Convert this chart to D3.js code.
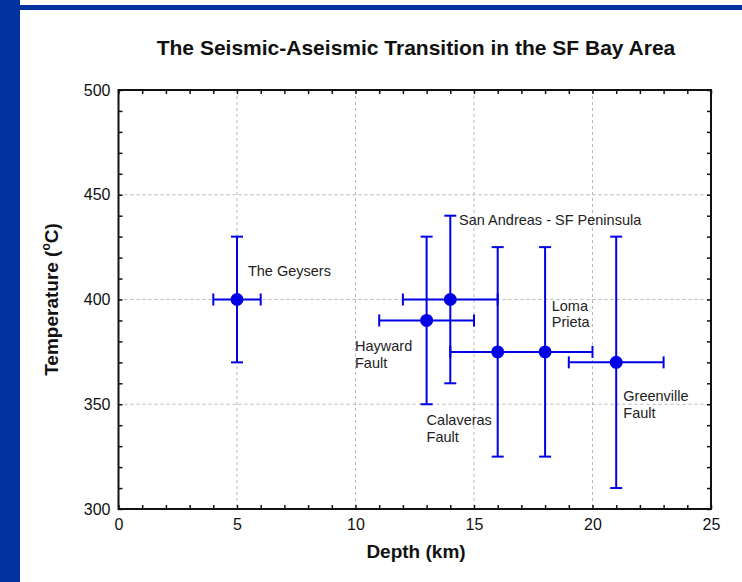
<!DOCTYPE html>
<html>
<head>
<meta charset="utf-8">
<script src="https://cdn.jsdelivr.net/npm/d3@7"></script>
<style>
  body { margin: 0; background: #fff; }
  svg { display: block; font-family: "Liberation Sans", Arial, sans-serif; }
  .grid line { stroke: #b8b8b8; stroke-dasharray: 3,3; stroke-width: 1; }
  .minor path { display: none; }
  .minor line { stroke: #111; stroke-width: 1.5; }
  .lbl path { display: none; }
  .lbl text { font-size: 16px; fill: #111; }
  .bar { stroke: #0000e6; stroke-width: 2; fill: none; }
  .note { font-size: 14.5px; fill: #222; }
</style>
</head>
<body>
<div id="chart"></div>
<script>
// site data
const sites = ['The Geysers', 'Hayward Fault', 'San Andreas - SF Peninsula',
    'Calaveras Fault', 'Loma Prieta', 'Greenville Fault'];
const depth = [5, 13, 14, 16, 18, 21];
const temp = [400, 390, 400, 375, 375, 370];
const depthErr = [1, 2, 2, 2, 2, 2];
const tempErr = [30, 40, 40, 50, 50, 60];

const xTicks = [0, 5, 10, 15, 20, 25];
const yTicks = [300, 350, 400, 450, 500];

// annotation text, anchored in data units (km, degC)
const noteLines = [['The Geysers'], ['Hayward', 'Fault'], ['San Andreas - SF Peninsula'],
    ['Calaveras', 'Fault'], ['Loma', 'Prieta'], ['Greenville', 'Fault']];
const noteDepth = [5.46, 9.98, 14.37, 13.0, 18.28, 21.3];
const noteTemp = [411.2, 375.4, 435.6, 340.1, 394.7, 351.5];

const W = 742, H = 582;
const plot = { left: 118.5, right: 711, top: 90, bottom: 509 };
const blue = '#0033a0';

const svg = d3.select('#chart').append('svg')
    .attr('width', W)
    .attr('height', H);

// slide frame
svg.append('rect').attr('x', 0).attr('y', 0).attr('width', 20).attr('height', H).attr('fill', blue);
svg.append('rect').attr('x', 0).attr('y', 5).attr('width', W).attr('height', 5).attr('fill', blue);

const x = d3.scaleLinear().domain([0, 25]).range([plot.left, plot.right]);
const y = d3.scaleLinear().domain([300, 500]).range([plot.bottom, plot.top]);

// dashed grid
const grid = svg.append('g').attr('class', 'grid');
grid.selectAll('.gx')
    .data(xTicks.slice(1, -1))
    .enter().append('line')
    .attr('x1', d => x(d)).attr('x2', d => x(d))
    .attr('y1', plot.top).attr('y2', plot.bottom);
grid.selectAll('.gy')
    .data(yTicks.slice(1, -1))
    .enter().append('line')
    .attr('x1', plot.left).attr('x2', plot.right)
    .attr('y1', d => y(d)).attr('y2', d => y(d));

// inward minor ticks on all four sides
const xMinor = x.ticks(25), yMinor = y.ticks(20);
const tk = 4;
svg.append('g').attr('class', 'minor').attr('transform', `translate(0,${plot.bottom})`)
    .call(d3.axisBottom(x).tickValues(xMinor).tickSizeInner(-tk).tickSizeOuter(0).tickFormat(''));
svg.append('g').attr('class', 'minor').attr('transform', `translate(0,${plot.top})`)
    .call(d3.axisTop(x).tickValues(xMinor).tickSizeInner(-tk).tickSizeOuter(0).tickFormat(''));
svg.append('g').attr('class', 'minor').attr('transform', `translate(${plot.left},0)`)
    .call(d3.axisLeft(y).tickValues(yMinor).tickSizeInner(-tk).tickSizeOuter(0).tickFormat(''));
svg.append('g').attr('class', 'minor').attr('transform', `translate(${plot.right},0)`)
    .call(d3.axisRight(y).tickValues(yMinor).tickSizeInner(-tk).tickSizeOuter(0).tickFormat(''));

// tick labels
svg.append('g').attr('class', 'lbl').attr('transform', `translate(0,${plot.bottom})`)
    .call(d3.axisBottom(x).tickValues(xTicks).tickSize(0).tickPadding(10).tickFormat(d3.format('d')));
svg.append('g').attr('class', 'lbl').attr('transform', `translate(${plot.left},0)`)
    .call(d3.axisLeft(y).tickValues(yTicks).tickSize(0).tickPadding(8).tickFormat(d3.format('d')));

// plot frame
svg.append('rect')
    .attr('x', plot.left).attr('y', plot.top)
    .attr('width', plot.right - plot.left).attr('height', plot.bottom - plot.top)
    .attr('fill', 'none').attr('stroke', '#111').attr('stroke-width', 2);

// error bars and markers
const cap = 6;
const pts = sites.map((s, i) => ({
    site: s, d: depth[i], t: temp[i], de: depthErr[i], te: tempErr[i]
}));
const bars = svg.append('g');
pts.forEach(p => {
    const g = bars.append('g').attr('class', 'bar');
    const cx = x(p.d), cy = y(p.t);
    const x0 = x(p.d - p.de), x1 = x(p.d + p.de);
    const y0 = y(p.t - p.te), y1 = y(p.t + p.te);
    g.append('line').attr('x1', x0).attr('x2', x1).attr('y1', cy).attr('y2', cy);
    g.append('line').attr('x1', cx).attr('x2', cx).attr('y1', y0).attr('y2', y1);
    [x0, x1].forEach(v => g.append('line').attr('x1', v).attr('x2', v)
        .attr('y1', cy - cap).attr('y2', cy + cap));
    [y0, y1].forEach(v => g.append('line').attr('x1', cx - cap).attr('x2', cx + cap)
        .attr('y1', v).attr('y2', v));
});
bars.selectAll('circle')
    .data(pts)
    .enter().append('circle')
    .attr('cx', d => x(d.d))
    .attr('cy', d => y(d.t))
    .attr('r', 6.5)
    .attr('fill', '#0000e6');

// annotations
noteLines.forEach((lines, i) => {
    const t = svg.append('text').attr('class', 'note')
        .attr('x', x(noteDepth[i])).attr('y', y(noteTemp[i]));
    lines.forEach((s, j) => t.append('tspan')
        .attr('x', x(noteDepth[i]))
        .attr('dy', j ? 16.6 : 0)
        .text(s));
});

// titles
svg.append('text')
    .attr('x', 416).attr('y', 55)
    .attr('text-anchor', 'middle')
    .style('font-size', '21px').style('font-weight', 'bold').style('fill', '#111')
    .text('The Seismic-Aseismic Transition in the SF Bay Area');

svg.append('text')
    .attr('x', 416).attr('y', 558)
    .attr('text-anchor', 'middle')
    .style('font-size', '19px').style('font-weight', 'bold').style('fill', '#111')
    .text('Depth (km)');

const yt = svg.append('text')
    .attr('transform', `translate(58,${(plot.top + plot.bottom) / 2}) rotate(-90)`)
    .attr('text-anchor', 'middle')
    .style('font-size', '19px').style('font-weight', 'bold').style('fill', '#111');
yt.append('tspan').text('Temperature (');
yt.append('tspan').attr('dy', -8).style('font-size', '12px').text('o');
yt.append('tspan').attr('dy', 8).text('C)');
</script>
</body>
</html>
